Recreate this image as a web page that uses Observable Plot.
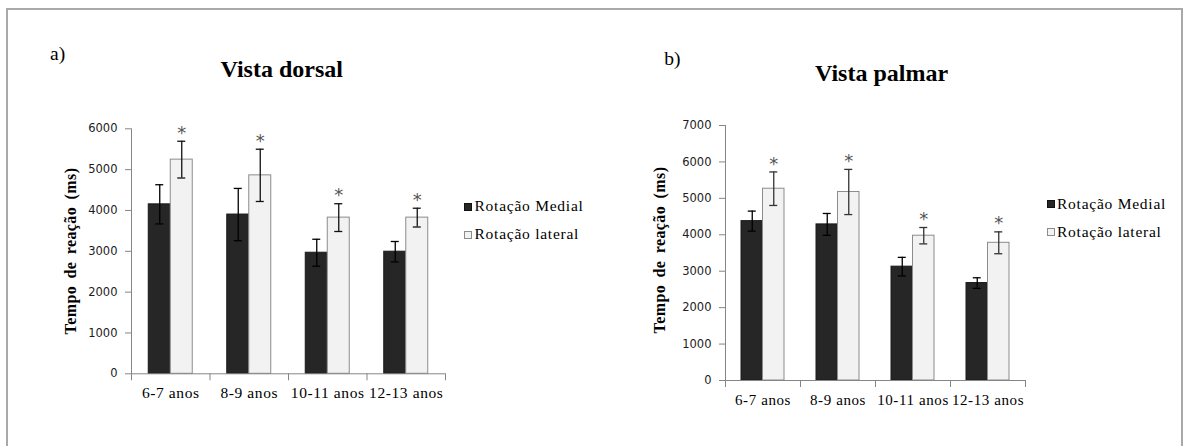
<!DOCTYPE html>
<html>
<head>
<meta charset="utf-8">
<script src="https://cdn.jsdelivr.net/npm/d3@7"></script>
<script src="https://cdn.jsdelivr.net/npm/@observablehq/plot@0.6"></script>
<style>
  html, body { margin: 0; padding: 0; background: #fff; }
  body { width: 1187px; height: 446px; overflow: hidden; position: relative; font-family: "Liberation Serif", "Times New Roman", serif; }
  #frame { position: absolute; left: 6px; top: 8px; width: 1177px; height: 470px; border: 2px solid #a9a9a9; box-sizing: border-box; }
  .abs { position: absolute; white-space: nowrap; color: #000; font-family: "Liberation Serif", "Times New Roman", serif; }
  .chart { position: absolute; top: 0; }
  .chart svg { overflow: visible; }
  .chart g[aria-label="y-axis tick label"] { font-family: "DejaVu Sans", Verdana, sans-serif; font-size: 11.5px; fill: #1c1c1c; }
  .chart g[aria-label="x-axis tick label"] { font-family: "Liberation Serif", "Times New Roman", serif; font-size: 15.5px; letter-spacing: 0.6px; fill: #000; }
  .chart g[aria-label="y-axis tick"], .chart g[aria-label="x-axis tick"] { stroke: #868686; }
  .sw { position: absolute; width: 8px; height: 8px; box-sizing: border-box; border: 1px solid #000; }
</style>
</head>
<body>
<div id="frame"></div>
<div id="root"></div>
<script>
// ---------- data ----------
const categories = ["6-7 anos", "8-9 anos", "10-11 anos", "12-13 anos"];
const seriesNames = ["Rotação Medial", "Rotação lateral"];

const dorsalMedial     = [4150, 3900, 2965, 2990];
const dorsalMedialErr  = [480, 640, 330, 250];
const dorsalLateral    = [5245, 4860, 3825, 3825];
const dorsalLateralErr = [450, 640, 340, 230];

const palmarMedial     = [4375, 4285, 3125, 2675];
const palmarMedialErr  = [275, 300, 255, 145];
const palmarLateral    = [5265, 5175, 3975, 3780];
const palmarLateralErr = [460, 620, 225, 300];

const significance = ["*", "*", "*", "*"];

const dorsalTicks = [0, 1000, 2000, 3000, 4000, 5000, 6000];
const palmarTicks = [0, 1000, 2000, 3000, 4000, 5000, 6000, 7000];

const panelLabels = ["a)", "b)"];
const chartTitles = ["Vista dorsal", "Vista palmar"];
const yTitle = "Tempo de reação (ms)";

// ---------- helpers ----------
const root = document.getElementById("root");
function addText(txt, x, baseline, size, style = {}, anchor = "start") {
  const d = document.createElement("div");
  d.className = "abs";
  d.textContent = txt;
  d.style.fontSize = size + "px";
  d.style.lineHeight = size + "px";
  d.style.left = x + "px";
  d.style.top = (baseline - 0.8375 * size) + "px";
  if (anchor === "middle") d.style.transform = "translateX(-50%)";
  Object.assign(d.style, style);
  root.appendChild(d);
  return d;
}
function addYTitle(txt, cx, cy) {
  const d = document.createElement("div");
  d.className = "abs";
  d.textContent = txt;
  Object.assign(d.style, {
    fontSize: "16px", lineHeight: "16px", fontWeight: "bold",
    letterSpacing: "0.4px", wordSpacing: "3px",
    left: cx + "px", top: cy + "px",
    transform: "translate(-50%,-50%) rotate(-90deg)"
  });
  root.appendChild(d);
}
function addLegend(x, textX, rows) {
  rows.forEach((r, i) => {
    const s = document.createElement("div");
    s.className = "sw";
    s.style.left = x + "px";
    s.style.top = r.top + "px";
    s.style.background = i === 0 ? "#262626" : "#f2f2f2";
    s.style.borderColor = i === 0 ? "#111" : "#8c8c8c";
    root.appendChild(s);
    addText(seriesNames[i], textX, r.baseline, 15.5, {letterSpacing: "0.75px"});
  });
}

function makeChart(opts) {
  const {medial, medialErr, lateral, lateralErr, ticks, yMax, left, width, height,
         mL, mR, mT, mB, barW, latErrColor, xFont} = opts;
  const bw = (width - mL - mR) / categories.length;
  const half = bw / 2;
  const med = categories.map((c, i) => ({cat: c, v: medial[i], e: medialErr[i]}));
  const lat = categories.map((c, i) => ({cat: c, v: lateral[i], e: lateralErr[i], s: significance[i]}));
  const capW = 8;
  const plot = Plot.plot({
    width, height,
    marginLeft: mL, marginRight: mR, marginTop: mT, marginBottom: mB,
    style: {background: "transparent", overflow: "visible"},
    x: {domain: categories, padding: 0, round: false},
    y: {domain: [0, yMax]},
    marks: [
      Plot.barY(med, {x: "cat", y: "v", fill: "#262626", stroke: "#1a1a1a", strokeWidth: 1,
                      insetLeft: half - barW, insetRight: half}),
      Plot.barY(lat, {x: "cat", y: "v", fill: "#f2f2f2", stroke: "#8c8c8c", strokeWidth: 1,
                      insetLeft: half, insetRight: half - barW}),
      Plot.ruleX(med, {x: "cat", y1: d => d.v - d.e, y2: d => d.v + d.e, dx: -barW / 2, stroke: "#000", strokeWidth: 1.3}),
      Plot.tickY(med, {x: "cat", y: d => d.v + d.e, dx: -barW / 2, insetLeft: (bw - capW) / 2, insetRight: (bw - capW) / 2, stroke: "#000", strokeWidth: 1.3}),
      Plot.tickY(med, {x: "cat", y: d => d.v - d.e, dx: -barW / 2, insetLeft: (bw - capW) / 2, insetRight: (bw - capW) / 2, stroke: "#000", strokeWidth: 1.3}),
      Plot.ruleX(lat, {x: "cat", y1: d => d.v - d.e, y2: d => d.v + d.e, dx: barW / 2, stroke: latErrColor, strokeWidth: 1.3}),
      Plot.tickY(lat, {x: "cat", y: d => d.v + d.e, dx: barW / 2, insetLeft: (bw - capW) / 2, insetRight: (bw - capW) / 2, stroke: latErrColor, strokeWidth: 1.3}),
      Plot.tickY(lat, {x: "cat", y: d => d.v - d.e, dx: barW / 2, insetLeft: (bw - capW) / 2, insetRight: (bw - capW) / 2, stroke: latErrColor, strokeWidth: 1.3}),
      Plot.text(lat, {x: "cat", y: d => d.v + d.e, text: "s", dx: barW / 2, dy: -8.2,
                      fontSize: 18, fontFamily: "DejaVu Sans", fill: "#555"}),
      Plot.frame({anchor: "left", stroke: "#868686"}),
      Plot.ruleY([0], {stroke: "#868686"}),
      Plot.axisY({ticks, tickSize: 6, tickPadding: 8, tickFormat: d => String(d), label: null}),
      Plot.axisX({tickSize: 0, tickPadding: 13.5, label: null}),
      Plot.axisX(categories, {tickSize: 7, tickFormat: () => "", dx: -half, label: null}),
      Plot.axisX([categories[categories.length - 1]], {tickSize: 7, tickFormat: () => "", dx: half, label: null})
    ]
  });
  const wrap = document.createElement("div");
  wrap.className = "chart";
  wrap.style.left = left + "px";
  wrap.style.width = width + "px";
  wrap.appendChild(plot);
  root.appendChild(wrap);
  if (xFont) wrap.querySelectorAll('g[aria-label="x-axis tick label"]').forEach(g => { g.style.fontSize = xFont + "px"; });
}

// ---------- left chart: Vista dorsal ----------
makeChart({
  medial: dorsalMedial, medialErr: dorsalMedialErr,
  lateral: dorsalLateral, lateralErr: dorsalLateralErr,
  ticks: dorsalTicks, yMax: 6000,
  left: 0, width: 460, height: 410,
  mL: 131, mR: 15, mT: 128.3, mB: 36.7, barW: 22, latErrColor: "#111"
});
// ---------- right chart: Vista palmar ----------
makeChart({
  medial: palmarMedial, medialErr: palmarMedialErr,
  lateral: palmarLateral, lateralErr: palmarLateralErr,
  ticks: palmarTicks, yMax: 7000,
  left: 600, width: 440, height: 420,
  mL: 125, mR: 15, mT: 125, mB: 40, barW: 21.5, latErrColor: "#333", xFont: 15
});

// ---------- text ----------
addText(panelLabels[0], 50, 60.5, 19.5);
addText(panelLabels[1], 664.3, 65, 19.5);
addText(chartTitles[0], 281.7, 77.3, 24, {fontWeight: "bold"}, "middle");
addText(chartTitles[1], 815, 80.7, 24, {fontWeight: "bold"});
addYTitle(yTitle, 71, 251);
addYTitle(yTitle, 660, 250);

addLegend(464, 474.5, [{top: 202.7, baseline: 210.7}, {top: 230.7, baseline: 239.3}]);
addLegend(1046.5, 1057, [{top: 200.3, baseline: 208.5}, {top: 228.3, baseline: 236.5}]);
</script>
</body>
</html>
